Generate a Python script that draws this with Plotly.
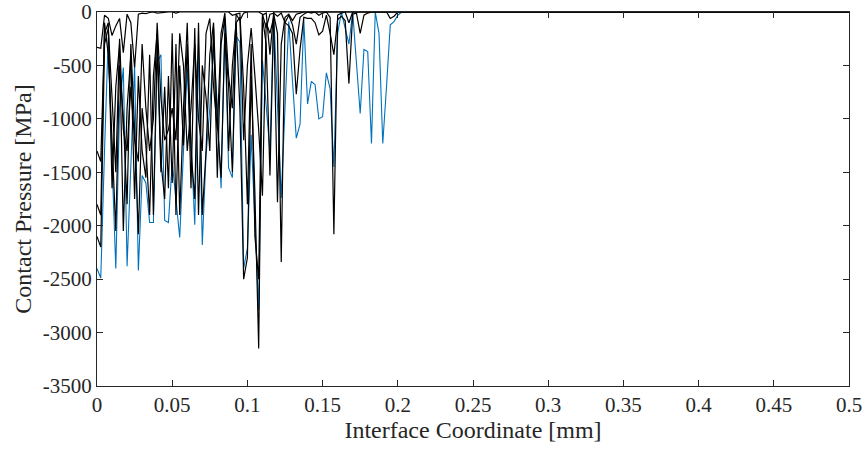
import numpy as np
import plotly.graph_objects as go

# x positions (mm) of the nodes; beyond 0.2 mm the pressure is zero
dx = 0.0025
n_total = 201  # 0 .. 0.5 mm

blue = [-2400, -2490, -1300, -230, -1400, -2400, -900, -520, -2380, -1400,
        -500, -2420, -1530, -1600, -1970, -1970, -470, -400, -1950, -1970,
        -1410, -1750, -2110, -1300, -520, -1200, -1990, -340, -2180, -1340,
        -900, -340, -870, -1650, -120, -1460, -1550, -230, -280, -2400,
        -2210, -1150, -1900, -2790, -450, -900, -1310, -10, -900, -1740,
        -900, -90, -650, -1180, -1050, -70, -860, -650, -680, -1000,
        -980, -570, -720, -1450, -200, 0, -150, -300, 0, -500,
        -950, -350, -370, -1230, 0, -200, -1230, -700, -120, -90, -30]

k1 = [-330, -340, -30, -60, -220, -130, -60, -380, -20, -100,
      -520, -20, -10, -15, -5, 0, -10, -5, 0, 0,
      0, -10, 0, 0, 0, -5, 0, 0, 0, 0,
      0, 0, 0, 0, 0, 0, -30, -20, -80, -10,
      0, 0, 0, 0, -20, -150, -20, -10, -40, -10,
      -100, -130, -200, -770, -350, -50, -60, -60, -100, -215,
      -180, -30, -200, -400, -70, -40, -80, -670, -20, -10,
      -200, -30, -10, 0, 0, 0, 0, 0, -60, -40, 0]

k2 = [-1300, -1400, -200, -100, -1650, -700, -300, -2050, -900, -400,
      -1750, -600, -1300, -1550, -400, -1900, -300, -1500, -700, -1650,
      -200, -1900, -500, -1250, -300, -1650, -150, -1900, -500, -800,
      -1300, -150, -1550, -300, -50, -1300, -500, -100, -900, -2500,
      -2300, -600, -1700, -3150, -50, -300, -1530, -20, -200, -2340,
      -100, -30, -120, -300, -50, -20, 0, -10, 0, -30,
      -10, 0, -50, -2080, -30, -10, 0, 0, 0, 0,
      0, 0, 0, 0, 0, 0, 0, 0, 0, 0, 0]

k3 = [-1800, -1900, -100, -400, -1200, -2050, -500, -1000, -1800, -300,
      -1100, -2080, -900, -1250, -1900, -600, -200, -1400, -1750, -600,
      -1600, -300, -1900, -900, -100, -1300, -1750, -100, -1900, -1300,
      -400, -100, -1050, -1550, -200, -700, -1500, -100, -50, -1200,
      -500, -150, -600, -1100, -1720, -100, -200, -50, -1780, -300,
      -50, -20, -80, -20, -10, 0, 0, 0, 0, 0,
      0, 0, 0, 0, 0, 0, 0, -100, 0, 0,
      0, 0, 0, 0, 0, 0, 0, 0, 0, 0, 0]

k4 = [-2100, -2200, -300, -150, -800, -1500, -250, -1100, -1300, -700,
      -1200, -1400, -300, -900, -1300, -1000, -100, -800, -1200, -1100,
      -900, -1200, -200, -500, -1300, -900, -300, -1000, -1300, -200,
      -60, -700, -1100, -200, -10, -600, -900, -20, -10, -700,
      -1800, -300, -2100, -2500, -30, -10, -400, 0, 0, 0,
      0, 0, 0, 0, 0, 0, 0, 0, 0, 0,
      0, 0, 0, 0, 0, 0, 0, 0, 0, 0,
      0, 0, 0, 0, 0, 0, 0, 0, 0, 0, 0]

x_ticks = [0, 0.05, 0.1, 0.15, 0.2, 0.25, 0.3, 0.35, 0.4, 0.45, 0.5]
x_labels = ["0", "0.05", "0.1", "0.15", "0.2", "0.25", "0.3", "0.35", "0.4", "0.45", "0.5"]
y_ticks = [-3500, -3000, -2500, -2000, -1500, -1000, -500, 0]
y_labels = ["-3500", "-3000", "-2500", "-2000", "-1500", "-1000", "-500", "0"]

x = np.arange(n_total) * dx


def pad(v):
    return list(v) + [0] * (n_total - len(v))


FONT = "Liberation Serif"
fig = go.Figure()
fig.add_trace(go.Scatter(x=x, y=pad(blue), mode="lines",
                         line=dict(color="#0072BD", width=1.1), showlegend=False))
for s in (k1, k2, k3, k4):
    fig.add_trace(go.Scatter(x=x, y=pad(s), mode="lines",
                             line=dict(color="black", width=1.2), showlegend=False))

axis_common = dict(showgrid=False, zeroline=False, showline=True, linecolor="#262626",
                   linewidth=1, mirror="ticks", ticks="inside", ticklen=6,
                   tickcolor="#262626", automargin=False,
                   tickfont=dict(family=FONT, size=21, color="#262626"))

fig.update_xaxes(range=[0, 0.5], tickvals=x_ticks, ticktext=x_labels,
                 title=dict(text="Interface Coordinate [mm]",
                            font=dict(family=FONT, size=24, color="#262626"), standoff=4),
                 **axis_common)
fig.update_yaxes(range=[-3500, 0], tickvals=y_ticks, ticktext=y_labels,
                 title=dict(text="Contact Pressure [MPa]",
                            font=dict(family=FONT, size=24, color="#262626"), standoff=4),
                 **axis_common)

fig.update_layout(width=866, height=453, margin=dict(l=97, r=17, t=12, b=67),
                  paper_bgcolor="white", plot_bgcolor="white")
fig.write_html("out.html")
